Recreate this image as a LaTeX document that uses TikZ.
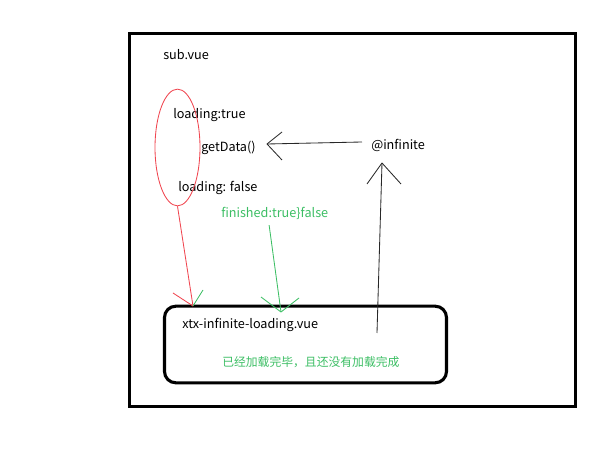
\documentclass[tikz,border=0pt]{standalone}
\usepackage{xcolor}
\usepackage{tikz}
\usepackage{fontspec}
\setmainfont{Noto Sans CJK SC}
\definecolor{paintred}{RGB}{240, 70, 80}
\definecolor{paintgreen}{RGB}{60, 190, 100}
\definecolor{pengray}{RGB}{40, 40, 40}
\usetikzlibrary{shapes.geometric, arrows.meta, positioning, calc}

\begin{document}
\begin{tikzpicture}[x=0.025cm, y=-0.025cm,
        label/.style={anchor=west, inner sep=0pt, font=\fontsize{9}{10}\selectfont},
        thickbox/.style={draw=black, line width=2.2pt, minimum width=317.5pt, minimum height=265pt, inner sep=0pt},
        loadbox/.style={draw=black, line width=2.2pt, rounded corners=8pt, minimum width=200.5pt, minimum height=54.5pt, inner sep=0pt},
        redline/.style={draw=paintred, line width=0.6pt},
        greenline/.style={draw=paintgreen, line width=0.6pt},
        penline/.style={draw=pengray, line width=0.6pt}]
        \useasboundingbox (0,0) rectangle (600,452);

        % frames
        \node[thickbox] (subbox) at (352.5,220) {};
        \node[loadbox] (loading) at (305.5,344.5) {};

        % texts
        \node[label] (subname) at (163,55) {sub.vue};
        \node[label] (loadtrue) at (173,115) {loading:true};
        \node[label] (getdata) at (201,148) {getData()};
        \node[label] (loadfalse) at (178,188) {loading: false};
        \node[label, text=paintgreen] (finished) at (221,213) {finished:true\}false};
        \node[label] (infinite) at (371,145) {@infinite};
        \node[label] (compname) at (182,325) {xtx-infinite-loading.vue};
        \node[label, text=paintgreen, font=\fontsize{8.4}{10}\selectfont] (donetext) at (222,362) {已经加载完毕，且还没有加载完成};

        % red ring round the loading flags
        \node[draw=paintred, line width=0.6pt, ellipse, minimum width=32pt, minimum height=83pt, inner sep=0pt] (ring) at (177.5,147.5) {};

        % connectors
        \coordinate (redtip) at (193,306);
        \coordinate (greentip) at (281,312);
        \coordinate (calltip) at (267,144);
        \coordinate (calltail) at (362,142);
        \coordinate (uptip) at (382,163);
        \coordinate (uptail) at (377,333);

        \draw[redline] (ring.south) -- (redtip);
        \draw[redline] (redtip) -- ++(-20,-13);
        \draw[greenline] (redtip) -- ++(10,-16);

        \draw[greenline] ([xshift=-4pt,yshift=-4pt]finished.south) -- (greentip);
        \draw[greenline] (greentip) -- ++(-20,-15);
        \draw[greenline] (greentip) -- ++(18,-14);

        \draw[penline] (calltail) -- (calltip);
        \draw[penline] (calltip) -- ++(15,-12);
        \draw[penline] (calltip) -- ++(15,16);

        \draw[penline] (uptail) -- (uptip);
        \draw[penline] (uptip) -- ++(-15,21);
        \draw[penline] (uptip) -- ++(19,21);
    \end{tikzpicture}
\end{document}
